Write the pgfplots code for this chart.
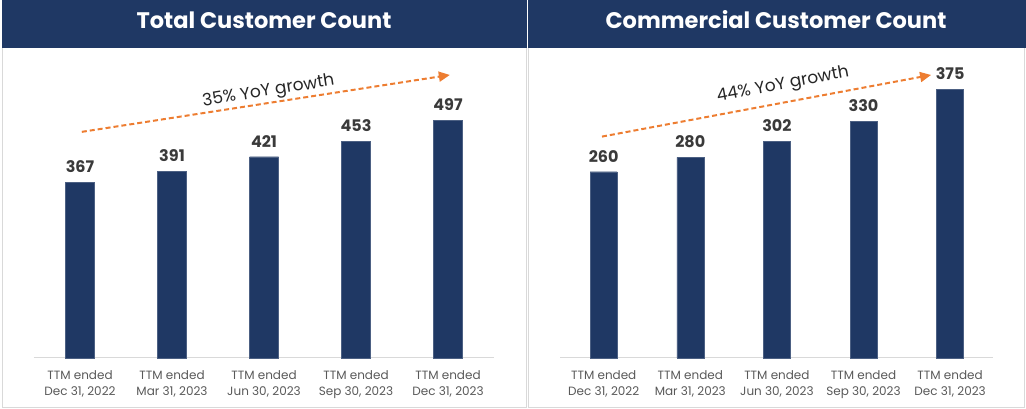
\documentclass[border=0pt]{standalone}
\usepackage{pgfplots}
\pgfplotsset{compat=1.18}
\usepackage{fontspec}
\setmainfont{Poppins}
\usetikzlibrary{arrows.meta}
\definecolor{navy}{HTML}{1F3864}
\definecolor{orng}{HTML}{ED7D31}
\definecolor{lbl}{HTML}{595959}
\definecolor{val}{HTML}{3A3A3A}
\definecolor{frame}{HTML}{D9D9D9}
\pgfplotsset{
  panel/.style={
    scale only axis,
    anchor=origin,
    ymin=0,
    xmin=-0.5, xmax=4.5,
    axis x line*=bottom,
    axis y line=none,
    x axis line style={draw=frame, line width=1pt, -},
    xtick=data,
    xticklabels={{TTM ended\\Dec 31, 2022},{TTM ended\\Mar 31, 2023},{TTM ended\\Jun 30, 2023},{TTM ended\\Sep 30, 2023},{TTM ended\\Dec 31, 2023}},
    xticklabel style={align=center, text=lbl, font=\fontsize{12}{16.5}\selectfont, yshift=-9pt},
    major tick length=0pt,
    ytick=\empty,
    clip=false,
    /pgf/number format/assume math mode=true,
    nodes near coords,
    every node near coord/.append style={font=\bfseries\fontsize{16}{16}\selectfont, text=val, yshift=6pt},
  },
  every axis plot/.append style={fill=navy, draw=navy!80!white, line width=0.4pt},
}
\begin{document}
\begin{tikzpicture}[x=1pt,y=1pt]
\useasboundingbox (0,0) rectangle (1026,409);
% panels
\draw[frame, line width=0.8pt] (2,2) rectangle (526.5,407);
\draw[frame, line width=0.8pt] (528,2) rectangle (1024,407);
\fill[navy] (2,361) rectangle (526.5,409);
\fill[navy] (528,361) rectangle (1026,409);
\node[text=white, font=\bfseries\fontsize{22.5}{22.5}\selectfont] at (264,389) {Total Customer Count};
\node[text=white, font=\bfseries\fontsize{22.5}{22.5}\selectfont] at (776,389) {Commercial Customer Count};

\begin{axis}[panel, at={(80pt,51pt)}, width=460pt, height=306pt, ymax=640, bar width=29pt]
  \addplot[ybar] coordinates {(0,367) (1,391) (2,421) (3,453) (4,497)};
  \draw[orng, line width=2pt, dash pattern=on 5pt off 3pt, -{Triangle[length=11pt,width=10pt]}] (axis cs:0.02,473) -- (axis cs:4.02,592);
  \node[rotate=9, font=\fontsize{17}{17}\selectfont, text=black!85] at (axis cs:2.05,557) {35\% YoY growth};
\end{axis}

\begin{axis}[panel, at={(603.7pt,51pt)}, width=433pt, height=308.1pt, ymax=430, bar width=27pt]
  \addplot[ybar] coordinates {(0,260) (1,280) (2,302) (3,330) (4,375)};
  \draw[orng, line width=2pt, dash pattern=on 5pt off 3pt, -{Triangle[length=11pt,width=10pt]}] (axis cs:-0.02,309) -- (axis cs:3.78,395);
  \node[rotate=10.5, font=\fontsize{17}{17}\selectfont, text=black!85] at (axis cs:2.07,381) {44\% YoY growth};
\end{axis}
\end{tikzpicture}
\end{document}
